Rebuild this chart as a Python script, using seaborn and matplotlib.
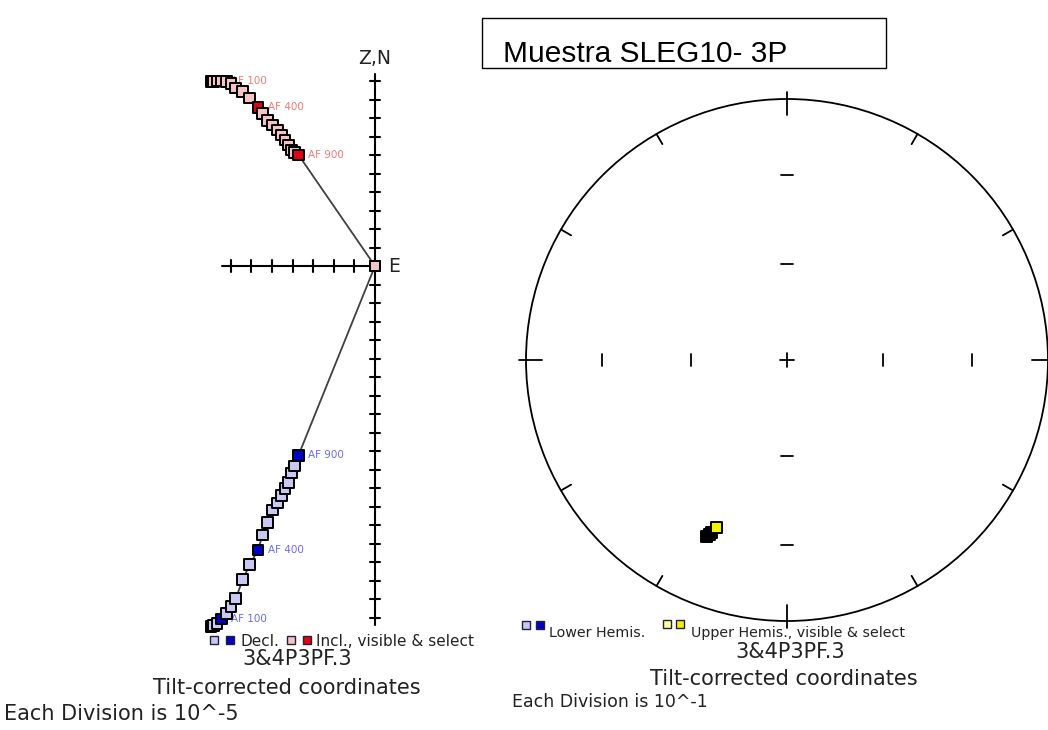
import numpy as np
import pandas as pd
import matplotlib
matplotlib.use("Agg")
import matplotlib.pyplot as plt
import seaborn as sns
from matplotlib.patches import Rectangle, Circle

# ------------------------------------------------------------------ data
# Zijderveld diagram (units: divisions of 10^-5)
af_steps = [0, 25, 50, 100, 150, 200, 250, 300, 350, 400, 450, 500, 550,
            600, 650, 700, 750, 800, 850, 900, 1000]
east = [-7.96, -7.82, -7.67, -7.45, -7.21, -6.99, -6.75, -6.43, -6.09, -5.68,
        -5.46, -5.22, -4.98, -4.73, -4.54, -4.37, -4.22, -4.05, -3.91, -3.71, 0.0]
north = [-19.51, -19.41, -19.30, -19.08, -18.76, -18.43, -17.95, -16.97, -16.16,
         -15.35, -14.54, -13.84, -13.19, -12.81, -12.43, -12.05, -11.68, -11.19,
         -10.81, -10.22, 0.0]
up = [9.95, 9.95, 10.0, 10.0, 9.95, 9.84, 9.62, 9.41, 9.08, 8.59, 8.22, 7.89,
      7.62, 7.35, 7.08, 6.81, 6.54, 6.27, 6.16, 6.00, 0.0]
labeled_steps = [100, 400, 900]
selected_decl = [100, 400, 900]
selected_incl = [400, 900]

# Equal-area stereonet
stereo_dec = [204.6, 204.0, 203.7, 202.9]
stereo_inc = [-26.6, -27.6, -28.7, -31.0]
stereo_kind = ["overlap", "overlap", "overlap", "upper_sel"]

sample_title = "Muestra SLEG10- 3P"
specimen = "3&4P3PF.3"
coord_text = "Tilt-corrected coordinates"
zij_div_text = "Each Division is 10^-5"
stereo_div_text = "Each Division is 10^-1"

# ------------------------------------------------------------------ style
sns.set_style("white")
plt.rcParams["font.family"] = ["DejaVu Sans"]
W, H = 1048, 730
fig = plt.figure(figsize=(W / 100, H / 100), dpi=100)
fig.patch.set_facecolor("white")

PINK, RED = "#f4c4c4", "#e4000c"
LAV, BLUE = "#c8c8f0", "#0000c8"
LYEL, YEL = "#ffff99", "#f2f200"
TXT = "#222222"

# overlay axes in pixel coordinates for captions / legends
axo = fig.add_axes([0, 0, 1, 1])
axo.set_xlim(0, W)
axo.set_ylim(H, 0)
axo.axis("off")

# ------------------------------------------------------------------ Zijderveld
ox, oy, ux, uy = 375, 266, 20.6, 18.5
bx0, bx1, by0, by1 = 190, 410, 40, 650
ax1 = fig.add_axes([bx0 / W, 1 - by1 / H, (bx1 - bx0) / W, (by1 - by0) / H])
ax1.axis("off")

# axes with ticks
ax1.plot([0, 0], [-19.4, 10.4], color="black", lw=1.5, zorder=1)
for k in range(-19, 11):
    if k != 0:
        ax1.plot([-0.26, 0.26], [k, k], color="black", lw=1.5, zorder=1)
ax1.plot([-7.45, 0], [0, 0], color="black", lw=1.5, zorder=1)
for k in range(-7, 0):
    ax1.plot([k, k], [-0.32, 0.32], color="black", lw=1.5, zorder=1)

df = pd.DataFrame({"step": af_steps, "east": east, "north": north, "up": up})
df["state_n"] = np.where(df["step"].isin(selected_decl), "sel", "vis")
df["state_u"] = np.where(df["step"].isin(selected_incl), "sel", "vis")

sns.lineplot(data=df, x="east", y="north", sort=False, estimator=None,
             color="#404040", lw=1.3, ax=ax1, zorder=2)
sns.lineplot(data=df, x="east", y="up", sort=False, estimator=None,
             color="#404040", lw=1.3, ax=ax1, zorder=2)

for _, r in df[df["step"].isin(labeled_steps)].iterrows():
    ax1.annotate(f"AF {r['step']}", (r["east"], r["north"]), xytext=(7, 0),
                 textcoords="offset points", va="center", ha="left",
                 fontsize=7.5, color="#6a6aee", zorder=3)
    ax1.annotate(f"AF {r['step']}", (r["east"], r["up"]), xytext=(7, 0),
                 textcoords="offset points", va="center", ha="left",
                 fontsize=7.5, color="#f07a7a", zorder=3)

sns.scatterplot(data=df, x="east", y="north", hue="state_n",
                palette={"vis": LAV, "sel": BLUE}, marker="s", s=62,
                edgecolor="black", linewidth=1.4, legend=False, ax=ax1, zorder=4)
sns.scatterplot(data=df, x="east", y="up", hue="state_u",
                palette={"vis": PINK, "sel": RED}, marker="s", s=62,
                edgecolor="black", linewidth=1.4, legend=False, ax=ax1, zorder=5)
ax1.set_xlim((bx0 - ox) / ux, (bx1 - ox) / ux)
ax1.set_ylim((oy - by1) / uy, (oy - by0) / uy)

ax1.text(0, (oy - 58) / uy, "Z,N", ha="center", va="center", fontsize=13.5,
         color=TXT)
ax1.text(0.62, 0, "E", ha="left", va="center", fontsize=13.5, color=TXT)

# Zijderveld legend & captions
def sq(x, y, face, size=8):
    axo.add_patch(Rectangle((x, y), size, size, facecolor=face,
                            edgecolor="#202040", lw=1.0))

sq(210, 636, LAV)
sq(226, 636, BLUE)
axo.text(241, 646, "Decl.", fontsize=11, color=TXT, va="baseline")
sq(287, 636, PINK)
sq(303, 636, RED)
axo.text(316, 646, "Incl., visible & select", fontsize=11, color=TXT,
         va="baseline")
axo.text(297, 665, specimen, fontsize=15, color=TXT, ha="center",
         va="baseline")
axo.text(287, 694, coord_text, fontsize=15, color=TXT, ha="center",
         va="baseline")
axo.text(4, 720, zij_div_text, fontsize=15, color=TXT, ha="left",
         va="baseline")

# ------------------------------------------------------------------ stereonet
cx, cy, R = 787, 360, 261
half = 280
ax2 = fig.add_axes([(cx - half) / W, 1 - (cy + half) / H, 2 * half / W,
                    2 * half / H])
lim = half / R
ax2.axis("off")

ax2.add_patch(Circle((0, 0), 1, fill=False, lw=1.3, color="black"))
for az in range(0, 360, 30):
    a = np.radians(az)
    r0, r1 = (0.94, 1.025) if az % 90 == 0 else (0.955, 1.0)
    ax2.plot([r0 * np.sin(a), r1 * np.sin(a)], [r0 * np.cos(a), r1 * np.cos(a)],
             color="black", lw=1.3)
t = 0.022
for rr in (0.366, 0.707):
    for sgn in (-1, 1):
        ax2.plot([sgn * rr, sgn * rr], [-t, t], color="black", lw=1.3)
        ax2.plot([-t, t], [sgn * rr, sgn * rr], color="black", lw=1.3)
ax2.plot([-0.025, 0.025], [0, 0], color="black", lw=1.3)
ax2.plot([0, 0], [-0.025, 0.025], color="black", lw=1.3)

sd = pd.DataFrame({"dec": stereo_dec, "inc": stereo_inc, "kind": stereo_kind})
rad = np.sqrt(2) * np.sin(np.radians(90 - sd["inc"].abs()) / 2)
sd["x"] = rad * np.sin(np.radians(sd["dec"]))
sd["y"] = rad * np.cos(np.radians(sd["dec"]))
sns.scatterplot(data=sd, x="x", y="y", hue="kind",
                palette={"overlap": "black", "upper_sel": YEL}, marker="s",
                s=62, edgecolor="black", linewidth=1.4, legend=False, ax=ax2,
                zorder=5)
ax2.set_xlim(-lim, lim)
ax2.set_ylim(-lim, lim)

# stereonet legend & captions
sq(522, 621, LAV)
sq(536, 621, BLUE)
axo.text(549, 637, "Lower Hemis.", fontsize=10.3, color=TXT, va="baseline")
sq(663, 620, LYEL)
sq(676, 620, YEL)
axo.text(691, 637, "Upper Hemis., visible & select", fontsize=10.3,
         color=TXT, va="baseline")
axo.text(790, 658, specimen, fontsize=15, color=TXT, ha="center",
         va="baseline")
axo.text(784, 685, coord_text, fontsize=15, color=TXT, ha="center",
         va="baseline")
axo.text(512, 707, stereo_div_text, fontsize=12.5, color=TXT, ha="left",
         va="baseline")

# ------------------------------------------------------------------ title box
axo.add_patch(Rectangle((482, 18), 404, 50, fill=False, lw=1.0,
                        edgecolor="black"))
axo.text(503, 62, sample_title, family=["Liberation Sans"], fontsize=21.5,
         color="black", ha="left", va="baseline")

fig.savefig("out.png", dpi=100, facecolor="white")
